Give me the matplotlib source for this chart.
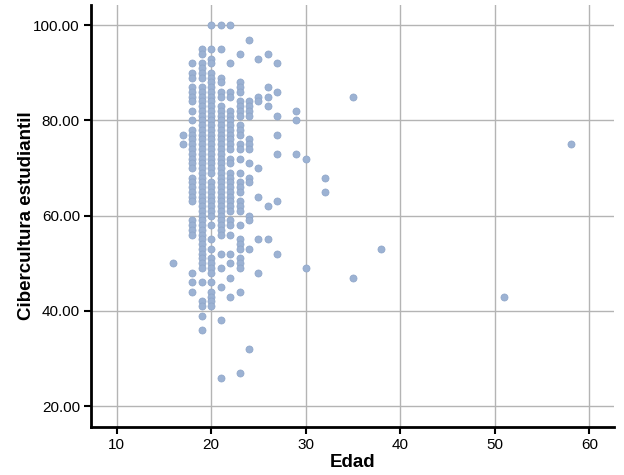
import matplotlib
matplotlib.use("Agg")
import matplotlib.pyplot as plt
import numpy as np

# ------------------------------
# Data (age -> list of scores)
# ------------------------------
scores_by_age = {
    16: [50],
    17: [77, 75],
    18: [92, 90, 89, 87, 86, 85, 84, 82, 80, 78, 77, 76, 75, 74, 73, 72, 71, 70,
         68, 67, 66, 65, 64, 63, 59, 58, 57, 56, 48, 46, 44],
    19: [95, 94, 92, 91, 90, 89] + list(range(87, 48, -1)) + [46, 42, 41, 39, 36],
    20: [100, 95, 93, 92] + list(range(90, 68, -1)) + list(range(67, 59, -1))
        + [58, 55, 53, 51, 50, 49, 48, 46, 44, 43, 42, 41],
    21: [100, 95, 89, 88, 86, 85] + list(range(83, 55, -1)) + [52, 49, 45, 38, 26],
    22: [100, 92, 86, 85, 82, 81, 80, 79, 78, 77, 76, 75, 74, 72, 71, 69, 68, 67,
         66, 65, 64, 63, 62, 61, 59, 58, 56, 52, 50, 47, 43],
    23: [94, 88, 87, 86, 84, 83, 82, 81, 79, 78, 77, 75, 74, 72, 69, 67, 66, 65,
         63, 62, 61, 58, 55, 54, 53, 51, 50, 49, 44, 27],
    24: [97, 84, 83, 82, 81, 76, 75, 74, 71, 68, 67, 60, 59, 53, 32],
    25: [93, 85, 84, 70, 64, 55, 48],
    26: [94, 87, 85, 83, 62, 55],
    27: [92, 86, 81, 77, 73, 63, 52],
    29: [82, 80, 73],
    30: [72, 49],
    32: [68, 65],
    35: [85, 47],
    38: [53],
    51: [43],
    58: [75],
}

edad = np.array([a for a, ys in scores_by_age.items() for _ in ys])
cibercultura = np.array([y for ys in scores_by_age.values() for y in ys])

x_ticks = [10, 20, 30, 40, 50, 60]
y_ticks = [20, 40, 60, 80, 100]

plt.rcParams['font.family'] = ['Liberation Sans', 'DejaVu Sans']

fig = plt.figure(figsize=(6.24, 4.75), dpi=100)
ax = fig.add_axes([0.146, 0.101, 0.838, 0.888])

ax.scatter(edad, cibercultura, s=26, color='#9cb2d3', edgecolor='#8ea5c8',
           linewidth=0.5, zorder=3)

ax.set_xlim(7.3, 62.6)
ax.set_ylim(15.6, 104.2)
ax.set_xticks(x_ticks)
ax.set_yticks(y_ticks)
ax.set_yticklabels([f'{v:.2f}' for v in y_ticks])

ax.grid(True, color='#b4b4b4', linewidth=1.0, zorder=0)

for side in ['top', 'right']:
    ax.spines[side].set_visible(False)
for side in ['left', 'bottom']:
    ax.spines[side].set_linewidth(2.0)
ax.tick_params(direction='out', length=5, width=1.5, labelsize=11, pad=3)

ax.set_xlabel('Edad', fontsize=13.5, fontweight='bold', labelpad=1)
ax.set_ylabel('Cibercultura estudiantil', fontsize=13.5, fontweight='bold', labelpad=-1)

plt.savefig('out.png', dpi=100)
plt.close()
